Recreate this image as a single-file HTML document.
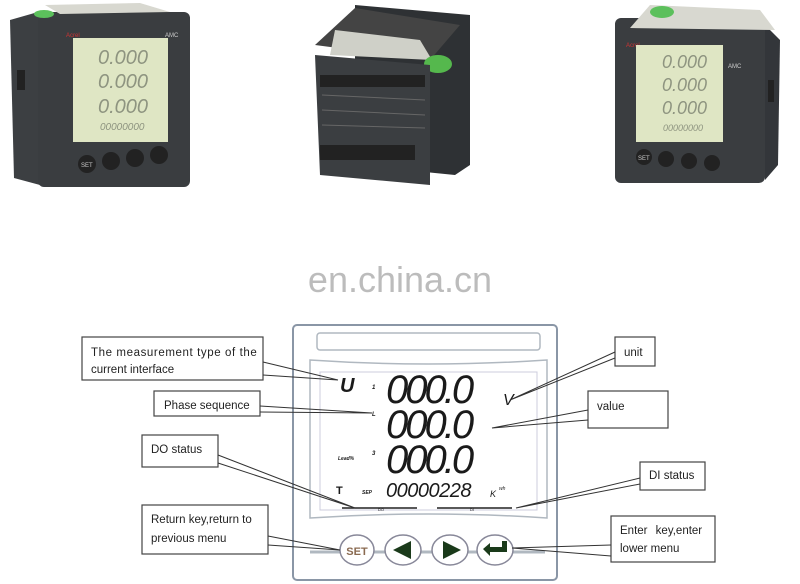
<!DOCTYPE html>
<html><head><meta charset="utf-8"><style>
html,body{margin:0;padding:0;background:#fff;width:800px;height:584px;overflow:hidden}
svg{display:block}
text{font-family:"Liberation Sans",sans-serif}
</style></head><body>
<svg width="800" height="584" viewBox="0 0 800 584" xmlns="http://www.w3.org/2000/svg">
<!-- Left device -->
<polygon points="10,20 38,12 40,185 14,178" fill="#3c3f42"/>
<rect x="38" y="12" width="152" height="175" rx="6" fill="#3a3d40"/>
<polygon points="45,5 140,3 170,12 60,14" fill="#d8d8d0"/>
<ellipse cx="44" cy="14" rx="10" ry="4" fill="#5cc05c"/>
<text x="66" y="37" font-size="6" fill="#c33">Acrel</text>
<text x="165" y="37" font-size="6" fill="#ccc">AMC</text>
<rect x="73" y="38" width="95" height="104" fill="#dfe6c4"/>
<g font-size="20" fill="#8e9480" font-style="italic"><text x="98" y="64">0.000</text><text x="98" y="88">0.000</text><text x="98" y="113">0.000</text></g>
<text x="100" y="130" font-size="10" fill="#8e9480" font-style="italic">00000000</text>
<g fill="#222"><circle cx="87" cy="164" r="9"/><circle cx="111" cy="161" r="9"/><circle cx="135" cy="158" r="9"/><circle cx="159" cy="155" r="9"/></g>
<text x="81" y="167" font-size="6" fill="#ccc">SET</text>
<rect x="17" y="70" width="8" height="20" fill="#222"/>
<!-- Center device -->
<polygon points="355,5 470,15 470,165 455,175 355,165" fill="#2e3134"/>
<polygon points="315,45 355,8 460,25 430,60" fill="#444"/>
<polygon points="335,30 420,40 432,60 330,55" fill="#cfd0c8"/>
<ellipse cx="438" cy="64" rx="14" ry="9" fill="#55b84d"/>
<polygon points="315,55 430,65 430,185 320,175" fill="#3b3e41"/>
<rect x="320" y="75" width="105" height="12" fill="#222"/>
<rect x="320" y="145" width="95" height="15" fill="#222"/>
<g stroke="#666" stroke-width="1"><line x1="322" y1="95" x2="425" y2="100"/><line x1="322" y1="110" x2="425" y2="115"/><line x1="322" y1="125" x2="425" y2="128"/></g>
<!-- Right device -->
<polygon points="765,25 780,40 778,165 765,180" fill="#33363a"/>
<rect x="615" y="18" width="150" height="165" rx="6" fill="#3a3d40"/>
<polygon points="650,5 760,10 775,30 630,28" fill="#d8d8d0"/>
<ellipse cx="662" cy="12" rx="12" ry="6" fill="#5cc05c"/>
<text x="626" y="47" font-size="6" fill="#c33">Acrel</text>
<text x="728" y="68" font-size="6" fill="#ccc">AMC</text>
<rect x="636" y="45" width="87" height="97" fill="#dfe6c4"/>
<g font-size="18" fill="#8e9480" font-style="italic"><text x="662" y="68">0.000</text><text x="662" y="91">0.000</text><text x="662" y="114">0.000</text></g>
<text x="663" y="131" font-size="9" fill="#8e9480" font-style="italic">00000000</text>
<g fill="#222"><circle cx="644" cy="157" r="8"/><circle cx="666" cy="159" r="8"/><circle cx="689" cy="161" r="8"/><circle cx="712" cy="163" r="8"/></g>
<text x="638" y="160" font-size="6" fill="#ccc">SET</text>
<rect x="768" y="80" width="6" height="22" fill="#222"/>

<!-- Watermark -->
<text x="400" y="292" font-size="36" fill="#bcbcbc" text-anchor="middle">en.china.cn</text>

<!-- Meter diagram -->
<rect x="293" y="325" width="264" height="255" rx="4" fill="#fff" stroke="#8a96a6" stroke-width="2"/>
<rect x="317" y="333" width="223" height="17" rx="3" fill="#fff" stroke="#b0b8c0" stroke-width="1.5"/>
<path d="M310,360 Q428,368 547,360 L547,518 Q428,510 310,518 Z" fill="#fff" stroke="#b0b8c0" stroke-width="1.5"/>
<rect x="320" y="372" width="217" height="138" fill="#fff" stroke="#ccd" stroke-width="1"/>
<g font-family="Liberation Sans" font-style="italic" fill="#1a1a1a">
<text x="340" y="392" font-size="20" font-weight="bold">U</text>
<text x="372" y="389" font-size="6" font-weight="bold">1</text>
<text x="372" y="416" font-size="6" font-weight="bold">L</text>
<text x="338" y="460" font-size="5" font-weight="bold">Lead%</text>
<text x="372" y="455" font-size="6" font-weight="bold">3</text>
<text x="336" y="494" font-size="11" font-weight="bold" font-style="normal">T</text>
<text x="362" y="494" font-size="5" font-weight="bold">SEP</text>
<g font-size="40" font-family="Liberation Mono" letter-spacing="-3"><text x="386" y="403">000.0</text><text x="386" y="438">000.0</text><text x="386" y="473">000.0</text></g>
<text x="386" y="497" font-size="20" font-family="Liberation Mono" letter-spacing="-0.5">00000228</text>
<text x="490" y="497" font-size="9">K</text><text x="499" y="490" font-size="5">wh</text>
<text x="503" y="405" font-size="16" font-weight="normal">V</text>
</g>
<g stroke="#222" stroke-width="1.5"><line x1="342" y1="508" x2="417" y2="508"/><line x1="437" y1="508" x2="512" y2="508"/></g>
<text x="378" y="511" font-size="4" fill="#222">DO</text><text x="470" y="511" font-size="4" fill="#222">DI</text>
<line x1="310" y1="552" x2="545" y2="552" stroke="#b0b8c0" stroke-width="3"/>
<g fill="#fff" stroke="#889" stroke-width="1.5"><ellipse cx="357" cy="550" rx="17" ry="15"/><ellipse cx="403" cy="550" rx="18" ry="15"/><ellipse cx="450" cy="550" rx="18" ry="15"/><ellipse cx="495" cy="550" rx="18" ry="15"/></g>
<text x="357" y="555" font-size="11" fill="#8a6a50" text-anchor="middle" font-family="Liberation Serif" font-weight="bold">SET</text>
<polygon points="393,550 411,541 411,559" fill="#1a3a1a"/>
<polygon points="443,541 461,550 443,559" fill="#1a3a1a"/>
<path d="M483,549 L490,543 L490,547 L502,547 L502,541 L507,541 L507,552 L490,552 L490,556 Z" fill="#1a3a1a"/>

<!-- Callout boxes -->
<g fill="#fff" stroke="#444" stroke-width="1.2">
<rect x="82" y="337" width="181" height="43"/>
<rect x="154" y="391" width="106" height="25"/>
<rect x="142" y="435" width="76" height="32"/>
<rect x="142" y="505" width="126" height="49"/>
<rect x="615" y="337" width="40" height="29"/>
<rect x="588" y="391" width="80" height="37"/>
<rect x="640" y="462" width="65" height="28"/>
<rect x="611" y="516" width="104" height="46"/>
</g>
<g stroke="#333" stroke-width="1" fill="none">
<polyline points="263,362 338,380 263,375"/>
<polyline points="260,406 372,413 260,412"/>
<polyline points="218,455 355,508 218,463"/>
<polyline points="268,536 340,550 268,545"/>
<polyline points="615,352 510,400 615,358"/>
<polyline points="588,410 492,428 588,420"/>
<polyline points="640,478 516,508 640,484"/>
<polyline points="611,545 512,548 611,556"/>
</g>
<g font-size="11.5" fill="#222">
<text x="91" y="356" letter-spacing="0.6">The measurement type of the</text>
<text x="91" y="373">current interface</text>
<text x="164" y="409">Phase sequence</text>
<text x="151" y="453">DO status</text>
<text x="151" y="523">Return key,return to</text>
<text x="151" y="542">previous menu</text>
<text x="624" y="356">unit</text>
<text x="597" y="410">value</text>
<text x="649" y="479">DI status</text>
<text x="620" y="534" word-spacing="5">Enter key,enter</text>
<text x="620" y="552">lower menu</text>
</g>
</svg>
</body></html>
